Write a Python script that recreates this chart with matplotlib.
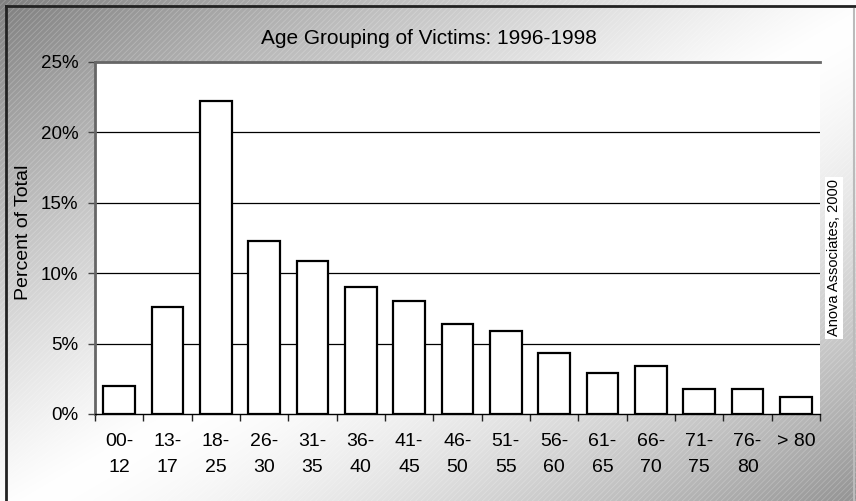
import numpy as np
import matplotlib
matplotlib.use("Agg")
import matplotlib.pyplot as plt
from matplotlib.patches import Rectangle
from matplotlib.lines import Line2D

categories = ["00-\n12", "13-\n17", "18-\n25", "26-\n30", "31-\n35", "36-\n40", "41-\n45",
              "46-\n50", "51-\n55", "56-\n60", "61-\n65", "66-\n70", "71-\n75", "76-\n80", "> 80"]
values = [2.0, 7.6, 22.2, 12.3, 10.9, 9.0, 8.0, 6.4, 5.9, 4.3, 2.9, 3.4, 1.8, 1.8, 1.2]
yticks = [0, 5, 10, 15, 20, 25]
ytick_labels = ["0%", "5%", "10%", "15%", "20%", "25%"]

plt.rcParams['font.family'] = ['Liberation Sans', 'DejaVu Sans']
plt.rcParams['hatch.linewidth'] = 0.6

W, H = 856, 501
fig = plt.figure(figsize=(W / 100, H / 100), dpi=100)

# background gradient
bg = fig.add_axes([0, 0, 1, 1], zorder=-10)
xx, yy = np.meshgrid(np.linspace(0, 1, 430), np.linspace(0, 1, 250))
s = (xx + yy) / 2.0  # 0 top-left, 1 bottom-right (rows from top)
p = 0.52
d_lo = np.clip((p - s) / p, 0, 1)
d_hi = np.clip((s - p) / (1 - p), 0, 1)
v = np.where(s < p, 1 - 0.50 * d_lo ** 1.2, 1 - 0.42 * d_hi ** 1.5)
v = np.clip(v, 0, 1)
bg.imshow(np.dstack([v, v, v]), extent=[0, 1, 0, 1], origin='upper', aspect='auto',
          interpolation='bilinear')
bg.add_patch(Rectangle((0, 0), 1, 1, facecolor='none', hatch='//////', edgecolor=(1, 1, 1, 0.22),
                       linewidth=0, transform=bg.transAxes))
bg.set_xlim(0, 1)
bg.set_ylim(0, 1)
bg.axis('off')

# figure border
fig.add_artist(Line2D([6 / W, 6 / W], [0, 1 - 6 / H], color='#222222', lw=2, transform=fig.transFigure))
fig.add_artist(Line2D([6 / W, 1], [1 - 6 / H, 1 - 6 / H], color='#222222', lw=2, transform=fig.transFigure))
fig.add_artist(Line2D([854 / W, 854 / W], [0, 1 - 9 / H], color='#bbbbbb', lw=1.5, transform=fig.transFigure))

ax = fig.add_axes([95 / W, (H - 414) / H, (820 - 95) / W, (414 - 62) / H])
ax.set_facecolor('white')
x = np.arange(len(categories))
ax.bar(x, values, width=0.65, color='white', edgecolor='black', linewidth=1.6, zorder=3)
ax.set_xlim(-0.5, len(categories) - 0.5)
ax.set_ylim(0, 25)
ax.set_yticks(yticks)
ax.set_yticklabels(ytick_labels, fontsize=13.5)
for yv in yticks[1:-1]:
    ax.axhline(yv, color='black', lw=0.9, zorder=1)

ax.set_xticks(x)
ax.set_xticklabels(categories, fontsize=14, linespacing=1.67)
ax.set_xticks(np.arange(-0.5, len(categories), 1.0), minor=True)
ax.tick_params(axis='x', which='major', length=0, pad=14)
ax.tick_params(axis='x', which='minor', length=5, width=1, color='#222222')
ax.tick_params(axis='y', length=5, width=1, color='#444444', pad=7)

ax.spines['top'].set_color('#666666')
ax.spines['top'].set_linewidth(2)
ax.spines['left'].set_color('#666666')
ax.spines['left'].set_linewidth(2)
ax.spines['right'].set_visible(False)
ax.spines['bottom'].set_color('black')
ax.spines['bottom'].set_linewidth(1)

fig.text(24 / W, 1 - 232 / H, "Percent of Total", rotation=90, ha='center', va='center', fontsize=14)

fig.text(429 / W, 1 - 38 / H, "Age Grouping of Victims: 1996-1998", ha='center', va='center', fontsize=15)

fig.text(834 / W, 1 - 258 / H, "Anova Associates, 2000", rotation=90, ha='center', va='center',
         fontsize=10.5, bbox=dict(facecolor='white', edgecolor='none', pad=1.5))

fig.savefig("out.png", dpi=100)
